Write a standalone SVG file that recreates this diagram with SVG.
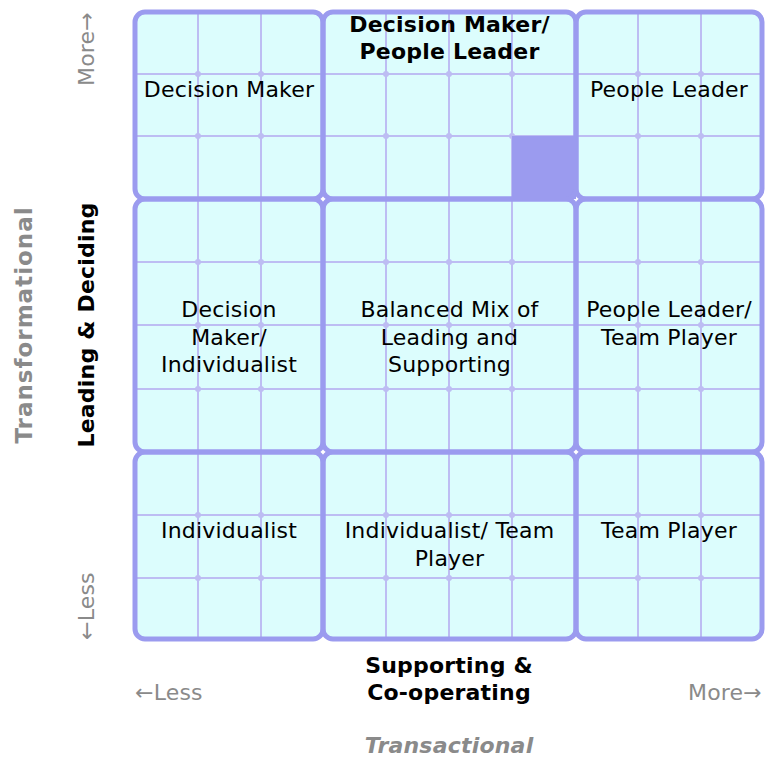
<svg xmlns="http://www.w3.org/2000/svg" width="765" height="767" viewBox="0 0 765 767">
<style>
.blk{fill:#dcfdfd;stroke:none}
.bst{fill:none;stroke:#9b9bef;stroke-width:5}
.thin{stroke:#bdbdf3;stroke-width:2;fill:none}
.dot{fill:#bdbdf3}
.hl{fill:#9b9bef}
text{font-family:"DejaVu Sans","Liberation Sans",sans-serif;font-size:22px;letter-spacing:0.2px;fill:#000}
.c{text-anchor:middle}
.b{font-weight:bold}
.g{fill:#8a8a8a}
</style>
<rect width="765" height="767" fill="#ffffff"/>
<g id="grid-fill">
<rect class="blk" x="135" y="12" width="188" height="187" rx="10"/>
<rect class="blk" x="323" y="12" width="253" height="187" rx="10"/>
<rect class="blk" x="576" y="12" width="186" height="187" rx="10"/>
<rect class="blk" x="135" y="199" width="188" height="253" rx="10"/>
<rect class="blk" x="323" y="199" width="253" height="253" rx="10"/>
<rect class="blk" x="576" y="199" width="186" height="253" rx="10"/>
<rect class="blk" x="135" y="452" width="188" height="187" rx="10"/>
<rect class="blk" x="323" y="452" width="253" height="187" rx="10"/>
<rect class="blk" x="576" y="452" width="186" height="187" rx="10"/>
</g>
<g id="grid-lines">
<path class="thin" d="M198 12V639M261 12V639M386 12V639M449 12V639M512 12V639M638 12V639M701 12V639M135 74H762M135 136H762M135 262H762M135 325H762M135 389H762M135 515H762M135 578H762"/>
<g class="dot">
<circle cx="198" cy="74" r="3"/><circle cx="261" cy="74" r="3"/><circle cx="386" cy="74" r="3"/><circle cx="449" cy="74" r="3"/><circle cx="512" cy="74" r="3"/><circle cx="638" cy="74" r="3"/><circle cx="701" cy="74" r="3"/>
<circle cx="198" cy="136" r="3"/><circle cx="261" cy="136" r="3"/><circle cx="386" cy="136" r="3"/><circle cx="449" cy="136" r="3"/><circle cx="512" cy="136" r="3"/><circle cx="638" cy="136" r="3"/><circle cx="701" cy="136" r="3"/>
<circle cx="198" cy="262" r="3"/><circle cx="261" cy="262" r="3"/><circle cx="386" cy="262" r="3"/><circle cx="449" cy="262" r="3"/><circle cx="512" cy="262" r="3"/><circle cx="638" cy="262" r="3"/><circle cx="701" cy="262" r="3"/>
<circle cx="198" cy="325" r="3"/><circle cx="261" cy="325" r="3"/><circle cx="386" cy="325" r="3"/><circle cx="449" cy="325" r="3"/><circle cx="512" cy="325" r="3"/><circle cx="638" cy="325" r="3"/><circle cx="701" cy="325" r="3"/>
<circle cx="198" cy="389" r="3"/><circle cx="261" cy="389" r="3"/><circle cx="386" cy="389" r="3"/><circle cx="449" cy="389" r="3"/><circle cx="512" cy="389" r="3"/><circle cx="638" cy="389" r="3"/><circle cx="701" cy="389" r="3"/>
<circle cx="198" cy="515" r="3"/><circle cx="261" cy="515" r="3"/><circle cx="386" cy="515" r="3"/><circle cx="449" cy="515" r="3"/><circle cx="512" cy="515" r="3"/><circle cx="638" cy="515" r="3"/><circle cx="701" cy="515" r="3"/>
<circle cx="198" cy="578" r="3"/><circle cx="261" cy="578" r="3"/><circle cx="386" cy="578" r="3"/><circle cx="449" cy="578" r="3"/><circle cx="512" cy="578" r="3"/><circle cx="638" cy="578" r="3"/><circle cx="701" cy="578" r="3"/>
</g>
<rect class="hl" x="512" y="136" width="64" height="63"/>
</g>
<g id="decision-maker">
<rect class="bst" x="135" y="12" width="188" height="187" rx="10"/>
<text class="c" x="229" y="97">Decision Maker</text>
</g>
<g id="decision-maker-people-leader">
<rect class="bst" x="323" y="12" width="253" height="187" rx="10"/>
<text class="c b" x="449.5" y="32">Decision Maker/</text>
<text class="c b" x="449.5" y="59">People Leader</text>
</g>
<g id="people-leader">
<rect class="bst" x="576" y="12" width="186" height="187" rx="10"/>
<text class="c" x="669" y="97">People Leader</text>
</g>
<g id="decision-maker-individualist">
<rect class="bst" x="135" y="199" width="188" height="253" rx="10"/>
<text class="c" x="229" y="317">Decision</text>
<text class="c" x="229" y="345">Maker/</text>
<text class="c" x="229" y="372">Individualist</text>
</g>
<g id="balanced-mix">
<rect class="bst" x="323" y="199" width="253" height="253" rx="10"/>
<text class="c" x="449.5" y="317">Balanced Mix of</text>
<text class="c" x="449.5" y="345">Leading and</text>
<text class="c" x="449.5" y="372">Supporting</text>
</g>
<g id="people-leader-team-player">
<rect class="bst" x="576" y="199" width="186" height="253" rx="10"/>
<text class="c" x="669" y="317">People Leader/</text>
<text class="c" x="669" y="345">Team Player</text>
</g>
<g id="individualist">
<rect class="bst" x="135" y="452" width="188" height="187" rx="10"/>
<text class="c" x="229" y="538">Individualist</text>
</g>
<g id="individualist-team-player">
<rect class="bst" x="323" y="452" width="253" height="187" rx="10"/>
<text class="c" x="449.5" y="538">Individualist/ Team</text>
<text class="c" x="449.5" y="566">Player</text>
</g>
<g id="team-player">
<rect class="bst" x="576" y="452" width="186" height="187" rx="10"/>
<text class="c" x="669" y="538">Team Player</text>
</g>
<g id="connectors"/>
<g id="axes">
<text class="c b" x="449" y="673">Supporting &amp;</text>
<text class="c b" x="449" y="700">Co-operating</text>
<text class="g" x="135" y="700">←Less</text>
<text class="g" x="762" y="700" text-anchor="end">More→</text>
<text class="c b g" x="449" y="753" font-style="italic">Transactional</text>
<text class="c b" transform="translate(94,325) rotate(-90)">Leading &amp; Deciding</text>
<text class="c b g" transform="translate(32,325) rotate(-90)" style="font-size:23px;letter-spacing:1px">Transformational</text>
<text class="g" text-anchor="end" transform="translate(94,12) rotate(-90)">More→</text>
<text class="g" transform="translate(94,640) rotate(-90)">←Less</text>
</g>
</svg>
